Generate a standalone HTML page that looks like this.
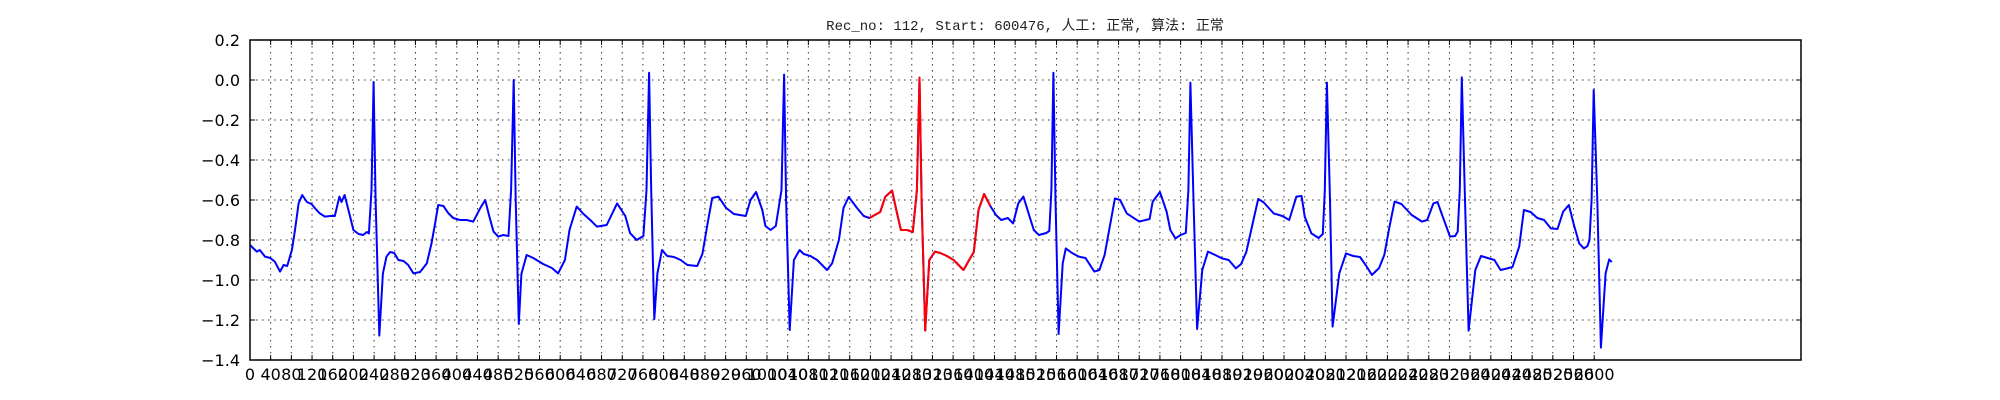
<!DOCTYPE html>
<html><head><meta charset="utf-8"><style>
html,body{margin:0;padding:0;background:#fff;}
svg{display:block;}
</style></head><body>
<svg id="chart" width="2000" height="400" viewBox="0 0 2000 400" xmlns="http://www.w3.org/2000/svg">
<rect x="0" y="0" width="2000" height="400" fill="#fff"/>
<text x="1025" y="30" text-anchor="middle" font-family="'Liberation Mono','Noto Sans CJK SC',monospace" font-size="14" fill="#222">Rec_no: 112, Start: 600476, 人工: 正常, 算法: 正常</text>
<g id="grid"></g>
<g id="series"></g>
<g id="axes"></g>
</svg>
<script>
// ---- data ----
const xTicks = [];
for (let t = 0; t <= 2600; t += 40) xTicks.push(t);
const yTicks = [0.2, 0.0, -0.2, -0.4, -0.6, -0.8, -1.0, -1.2, -1.4];
const redStart = 1198;
const redEnd = 1436;
const sampleIdx = [0,13,19,29,39,48,58,65,72,81,87,94,101,110,119,126,135,145,155,164,173,177,183,192,200,210,219,226,230,235,239,243,250,257,264,271,279,287,297,306,316,329,342,351,358,364,374,384,393,406,419,432,445,455,463,471,480,490,500,505,510,514,520,525,535,548,567,584,596,609,618,632,645,658,671,690,710,726,735,748,761,767,772,776,782,788,797,807,820,833,846,865,875,885,894,906,921,936,959,968,979,991,997,1007,1017,1028,1033,1037,1044,1052,1063,1071,1084,1097,1116,1126,1139,1148,1158,1174,1187,1198,1212,1219,1229,1242,1250,1259,1271,1282,1290,1295,1299,1306,1314,1325,1335,1348,1361,1380,1390,1400,1409,1420,1432,1443,1453,1466,1476,1486,1496,1506,1516,1526,1540,1546,1550,1554,1558,1564,1572,1578,1590,1603,1616,1633,1643,1653,1663,1673,1683,1696,1720,1740,1746,1760,1773,1780,1790,1800,1810,1815,1819,1825,1832,1842,1853,1867,1880,1893,1907,1917,1927,1940,1950,1960,1980,1997,2010,2024,2034,2040,2053,2067,2075,2079,2083,2089,2094,2107,2120,2134,2147,2160,2170,2184,2194,2204,2214,2227,2247,2267,2277,2289,2297,2307,2321,2331,2336,2340,2344,2350,2357,2370,2381,2394,2407,2419,2432,2442,2455,2464,2477,2490,2503,2516,2529,2540,2551,2560,2571,2580,2587,2591,2595,2599,2606,2613,2622,2629,2634];
const sampleVal = [-0.825,-0.858,-0.85,-0.883,-0.89,-0.908,-0.958,-0.925,-0.93,-0.85,-0.75,-0.617,-0.575,-0.61,-0.62,-0.642,-0.667,-0.683,-0.68,-0.68,-0.583,-0.61,-0.575,-0.667,-0.75,-0.77,-0.775,-0.76,-0.767,-0.55,-0.01,-0.6,-1.278,-0.967,-0.883,-0.86,-0.865,-0.9,-0.905,-0.925,-0.967,-0.96,-0.917,-0.817,-0.717,-0.625,-0.63,-0.667,-0.69,-0.7,-0.7,-0.708,-0.642,-0.6,-0.683,-0.758,-0.783,-0.775,-0.78,-0.55,0.0,-0.6,-1.22,-0.97,-0.875,-0.89,-0.92,-0.94,-0.967,-0.9,-0.75,-0.633,-0.67,-0.7,-0.733,-0.725,-0.617,-0.68,-0.765,-0.8,-0.78,-0.55,0.036,-0.55,-1.195,-0.967,-0.85,-0.88,-0.885,-0.9,-0.925,-0.93,-0.87,-0.72,-0.59,-0.583,-0.64,-0.67,-0.68,-0.6,-0.56,-0.65,-0.73,-0.75,-0.73,-0.55,0.027,-0.6,-1.25,-0.9,-0.85,-0.87,-0.88,-0.9,-0.95,-0.917,-0.8,-0.64,-0.585,-0.64,-0.68,-0.69,-0.67,-0.66,-0.583,-0.553,-0.65,-0.75,-0.75,-0.76,-0.55,0.012,-0.6,-1.253,-0.9,-0.858,-0.865,-0.88,-0.9,-0.95,-0.905,-0.86,-0.65,-0.57,-0.63,-0.675,-0.7,-0.69,-0.717,-0.617,-0.583,-0.667,-0.75,-0.775,-0.765,-0.755,-0.55,0.036,-0.6,-1.27,-0.917,-0.842,-0.865,-0.883,-0.89,-0.958,-0.95,-0.875,-0.733,-0.592,-0.6,-0.667,-0.708,-0.695,-0.608,-0.56,-0.658,-0.75,-0.792,-0.775,-0.765,-0.55,-0.013,-0.6,-1.245,-0.95,-0.858,-0.875,-0.892,-0.9,-0.942,-0.92,-0.86,-0.71,-0.595,-0.61,-0.667,-0.68,-0.7,-0.583,-0.58,-0.683,-0.767,-0.79,-0.77,-0.55,-0.013,-0.6,-1.233,-0.967,-0.867,-0.88,-0.885,-0.933,-0.975,-0.94,-0.875,-0.733,-0.608,-0.62,-0.675,-0.708,-0.7,-0.617,-0.61,-0.683,-0.783,-0.78,-0.758,-0.55,0.013,-0.6,-1.253,-0.95,-0.88,-0.89,-0.9,-0.95,-0.942,-0.935,-0.833,-0.65,-0.66,-0.69,-0.7,-0.742,-0.745,-0.658,-0.625,-0.717,-0.817,-0.842,-0.83,-0.8,-0.6,-0.05,-0.6,-1.338,-0.967,-0.897,-0.91,-0.9];

// ---- layout ----
const L = 250, R = 1801, T = 40, B = 360;
const xMin = 0, xMax = 3000, yMin = -1.4, yMax = 0.2;
function sx(v){ return L + (v - xMin) / (xMax - xMin) * (R - L); }
function sy(v){ return B - (v - yMin) / (yMax - yMin) * (B - T); }
const NS = 'http://www.w3.org/2000/svg';
function mk(tag, attrs, parent){ const e = document.createElementNS(NS, tag); for (const k in attrs) e.setAttribute(k, attrs[k]); parent.appendChild(e); return e; }

const grid = document.getElementById('grid');
const axes = document.getElementById('axes');
const series = document.getElementById('series');

xTicks.forEach(t => {
  const x = sx(t);
  const g = mk('line', {x1:x, x2:x, y1:T, y2:B, stroke:'#000', 'stroke-width':1, 'stroke-dasharray':'1.5,4.5', opacity:0.8}, grid);
  
  
  const tb = mk('line', {x1:x, x2:x, y1:B, y2:B-5, stroke:'#000', 'stroke-width':1}, axes);
  
  
  const tt = mk('line', {x1:x, x2:x, y1:T, y2:T+5, stroke:'#000', 'stroke-width':1}, axes);
  
  
  const lb = mk('text', {x:x, y:380, 'text-anchor':'middle', 'font-family':"'DejaVu Sans','Liberation Sans',sans-serif", 'font-size':16, fill:'#000'}, axes);
  lb.textContent = String(t);
  
  
});
yTicks.forEach(t => {
  const y = sy(t);
  const g = mk('line', {x1:L, x2:R, y1:y, y2:y, stroke:'#000', 'stroke-width':1, 'stroke-dasharray':'1.5,4.5', opacity:0.8}, grid);
  
  
  const tl = mk('line', {x1:L, x2:L+5, y1:y, y2:y, stroke:'#000', 'stroke-width':1}, axes);
  
  
  const tr = mk('line', {x1:R-5, x2:R, y1:y, y2:y, stroke:'#000', 'stroke-width':1}, axes);
  
  
  const lb = mk('text', {x:240, y:y+6, 'text-anchor':'end', 'font-family':"'DejaVu Sans','Liberation Sans',sans-serif", 'font-size':16, fill:'#000'}, axes);
  lb.textContent = (t < 0 ? '\u2212' : '') + Math.abs(t).toFixed(1);
  
  
});
const frame = mk('rect', {x:L, y:T, width:R-L, height:B-T, fill:'none', stroke:'#000', 'stroke-width':1.5}, axes);



let pts = [], redPts = [];
for (let i = 0; i < sampleIdx.length; i++) {
  const p = sx(sampleIdx[i]).toFixed(1) + ',' + sy(sampleVal[i]).toFixed(1);
  pts.push(p);
  if (sampleIdx[i] >= redStart && sampleIdx[i] <= redEnd) redPts.push(p);
}
const blue = mk('polyline', {points:pts.join(' '), fill:'none', stroke:'#0000ff', 'stroke-width':2, 'stroke-linejoin':'round'}, series);


const red = mk('polyline', {points:redPts.join(' '), fill:'none', stroke:'#ff0000', 'stroke-width':2, 'stroke-linejoin':'round'}, series);


</script>
</body></html>
